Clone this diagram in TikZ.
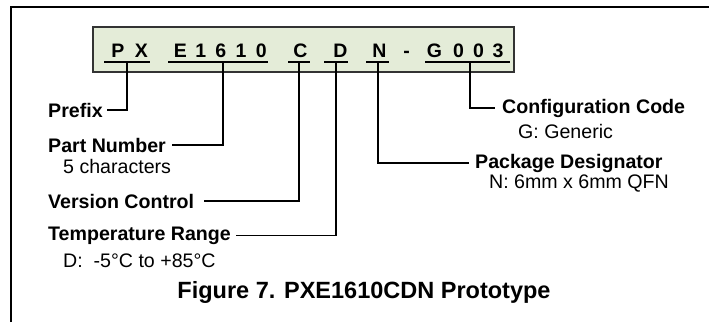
\documentclass[tikz,border=0pt]{standalone}
\usepackage{fontspec}
\setmainfont{Liberation Sans}
\definecolor{boxfill}{HTML}{E4ECD8}
\definecolor{boxedge}{HTML}{333333}
\begin{document}
\begin{tikzpicture}[x=1pt,y=-1pt,
  codechar/.style={anchor=base,inner sep=0pt,font=\fontsize{19.5}{22}\selectfont\bfseries},
  lbl/.style={anchor=base west,inner sep=0pt,font=\fontsize{19.6}{22}\selectfont\bfseries},
  sublbl/.style={anchor=base west,inner sep=0pt,font=\fontsize{19.6}{22}\selectfont},
  ul/.style={line width=1.6pt},
  conn/.style={line width=1.4pt},
  frameline/.style={line width=2.2pt}]
\useasboundingbox (0,0) rectangle (709,322);
% outer frame (top and left)
\draw[frameline] (11,322) -- (11,7) -- (709,7);
% code box
\draw[fill=boxfill,draw=boxedge,line width=1.6pt] (93,27) rectangle (514,72);
% characters
\node[codechar] (p1) at (118,57) {P};
\node[codechar] (p2) at (141.5,57) {X};
\node[codechar] (n1) at (180.5,57) {E};
\node[codechar] (n2) at (200.7,57) {1};
\node[codechar] (n3) at (220.9,57) {6};
\node[codechar] (n4) at (241.1,57) {1};
\node[codechar] (n5) at (261.3,57) {0};
\node[codechar] (vc) at (300.5,57) {C};
\node[codechar] (tr) at (340.5,57) {D};
\node[codechar] (pk) at (379.5,57) {N};
\node[codechar] (dash) at (406.5,57) {-};
\node[codechar] (g1) at (434.5,57) {G};
\node[codechar] (g2) at (458.5,57) {0};
\node[codechar] (g3) at (478.5,57) {0};
\node[codechar] (g4) at (498,57) {3};
% underlines
\draw[ul] (104,62) -- (150,62);
\draw[ul] (168,62) -- (268,62);
\draw[ul] (288,62) -- (310,62);
\draw[ul] (324,62) -- (348,62);
\draw[ul] (366,62) -- (389,62);
\draw[ul] (425,62) -- (510,62);
\coordinate (cPX) at (127,62);
\coordinate (cPN) at (223,62);
\coordinate (cVC) at (299,62);
\coordinate (cTR) at (336,62);
\coordinate (cPK) at (378,62);
\coordinate (cCC) at (470,62);
% labels left
\node[lbl] (prefix) at (48,117) {Prefix};
\node[lbl] (partnum) at (48,152) {Part Number};
\node[sublbl] (partsub) at (63,173) {5 characters};
\node[lbl] (version) at (48,208) {Version Control};
\node[lbl] (temp) at (48,240) {Temperature Range};
\node[sublbl] (tempsub) at (63,267) {D:\ \ -5°C to +85°C};
% labels right
\node[lbl] (config) at (502,113) {Configuration Code};
\node[sublbl] (configsub) at (518,138) {G: Generic};
\node[lbl] (package) at (475,168) {Package Designator};
\node[sublbl] (packagesub) at (489,188) {N: 6mm x 6mm QFN};
% connectors
\draw[conn] (cPX) |- ([xshift=4pt]prefix.east);
\draw[conn] (cPN) |- ([xshift=6pt]partnum.east);
\draw[conn] (cVC) |- ([xshift=10pt]version.east);
\draw[conn] (cTR) |- ([xshift=5pt]temp.east);
\draw[conn] (cCC) |- ([xshift=-7pt]config.west);
\draw[conn] (cPK) |- ([xshift=-6pt]package.west);
% caption
\node[anchor=base,inner sep=0pt,font=\fontsize{23.5}{26}\selectfont\bfseries] (caption) at (364,298) {Figure 7. PXE1610CDN Prototype};
\end{tikzpicture}
\end{document}
